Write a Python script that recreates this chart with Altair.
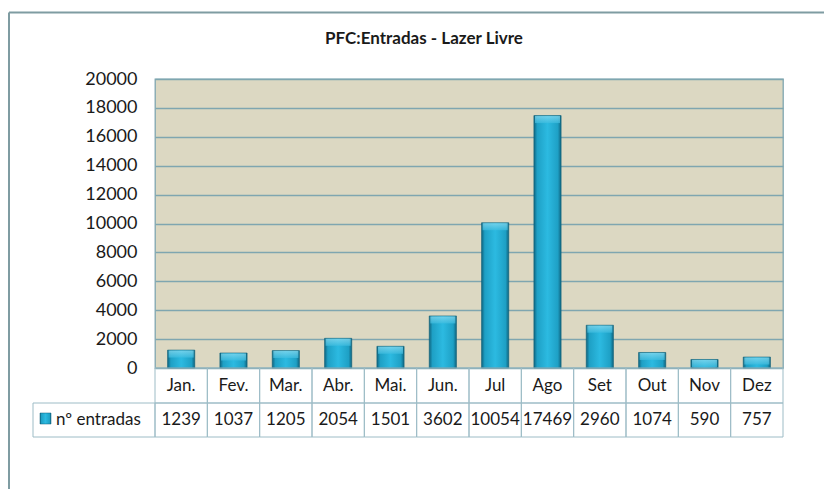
import altair as alt
import pandas as pd

months = ["Jan.", "Fev.", "Mar.", "Abr.", "Mai.", "Jun.", "Jul", "Ago", "Set", "Out", "Nov", "Dez"]
entradas = [1239, 1037, 1205, 2054, 1501, 3602, 10054, 17469, 2960, 1074, 590, 757]
series_name = "nº entradas"
title_text = "PFC:Entradas - Lazer Livre"
y_ticks = [0, 2000, 4000, 6000, 8000, 10000, 12000, 14000, 16000, 18000, 20000]

df = pd.DataFrame({"mes": months, "entradas": entradas})

FONT = "Lato"
GRID = "#7fa6b0"
TABLE = "#9dbcc6"

x_enc = alt.X("mes:N", sort=months, axis=None,
              scale=alt.Scale(paddingInner=0, paddingOuter=0))
y_scale = alt.Scale(domain=[0, 20000], nice=False)
y_axis = alt.Axis(values=y_ticks, title=None, format="d", labelOverlap=False,
                  labelFlush=False, domain=False, ticks=False, labelFont=FONT,
                  labelFontSize=18, labelColor="#1a1a1a", labelPadding=18,
                  gridColor=GRID, gridWidth=1.3)

base = alt.Chart(df)

bar_grad = {
    "gradient": "linear", "x1": 0, "x2": 1, "y1": 0, "y2": 0,
    "stops": [
        {"offset": 0, "color": "#0f6580"},
        {"offset": 0.12, "color": "#1ea0c5"},
        {"offset": 0.5, "color": "#2cbae1"},
        {"offset": 0.88, "color": "#1ea0c5"},
        {"offset": 1, "color": "#0f6580"},
    ],
}
top_grad = {
    "gradient": "linear", "x1": 0, "x2": 0, "y1": 0, "y2": 1,
    "stops": [
        {"offset": 0, "color": "#8fdcf0"},
        {"offset": 1, "color": "#3fbde0"},
    ],
}

bars = base.mark_bar(width={"band": 0.52}, color=bar_grad, stroke="#0d5f78",
                     strokeWidth=0.6).encode(
    x=x_enc,
    y=alt.Y("entradas:Q", scale=y_scale, axis=y_axis),
)

bevel = base.mark_tick(thickness=7, size=25, yOffset=4, color=top_grad).encode(
    x=x_enc,
    y=alt.Y("entradas:Q", scale=y_scale, axis=y_axis),
)

row1 = base.mark_rect(fillOpacity=0, stroke=TABLE, strokeWidth=1).encode(
    x=x_enc, y=alt.value(289), y2=alt.value(324))
row2 = base.mark_rect(fillOpacity=0, stroke=TABLE, strokeWidth=1).encode(
    x=x_enc, y=alt.value(324), y2=alt.value(358))

month_txt = base.mark_text(font=FONT, fontSize=17, color="#1a1a1a",
                           baseline="middle").encode(
    x=x_enc, y=alt.value(307), text="mes:N")
val_txt = base.mark_text(font=FONT, fontSize=17, color="#1a1a1a",
                         baseline="middle").encode(
    x=x_enc, y=alt.value(341), text=alt.Text("entradas:Q", format="d"))

label_df = pd.DataFrame({"name": [series_name], "title": [title_text]})
lab = alt.Chart(label_df)

left_cell = lab.mark_rect(fillOpacity=0, stroke=TABLE, strokeWidth=1).encode(
    x=alt.value(-122), x2=alt.value(0), y=alt.value(324), y2=alt.value(358))
key = lab.mark_rect(color=bar_grad, stroke="#0d5f78", strokeWidth=0.5).encode(
    x=alt.value(-115), x2=alt.value(-104), y=alt.value(334), y2=alt.value(345))
name_txt = lab.mark_text(font=FONT, fontSize=17, color="#1a1a1a",
                         align="left", baseline="middle").encode(
    x=alt.value(-99), y=alt.value(341), text="name:N")
title_mark = lab.mark_text(font=FONT, fontSize=17, fontWeight="bold",
                           color="#1a1a1a", align="center",
                           baseline="middle").encode(
    x=alt.value(269), y=alt.value(-40), text="title:N")

border_top = lab.mark_rule(color="#7f9ca2", strokeWidth=2).encode(
    x=alt.value(-146), x2=alt.value(720), y=alt.value(-66.5))
border_left = lab.mark_rule(color="#7f9ca2", strokeWidth=2).encode(
    x=alt.value(-146), y=alt.value(-66.5), y2=alt.value(450))

chart = alt.layer(
    bars, bevel, row1, row2, month_txt, val_txt,
    left_cell, key, name_txt, title_mark, border_top, border_left,
).properties(
    width=628, height=289,
    autosize=alt.AutoSizeParams(type="none"),
    padding={"left": 147, "top": 71, "right": 41, "bottom": 121},
    background="white",
).configure_view(
    fill="#dcd8c2", stroke=GRID, strokeWidth=1.3,
)

chart.save("out.html", embed_options={"renderer": "svg", "actions": False})
